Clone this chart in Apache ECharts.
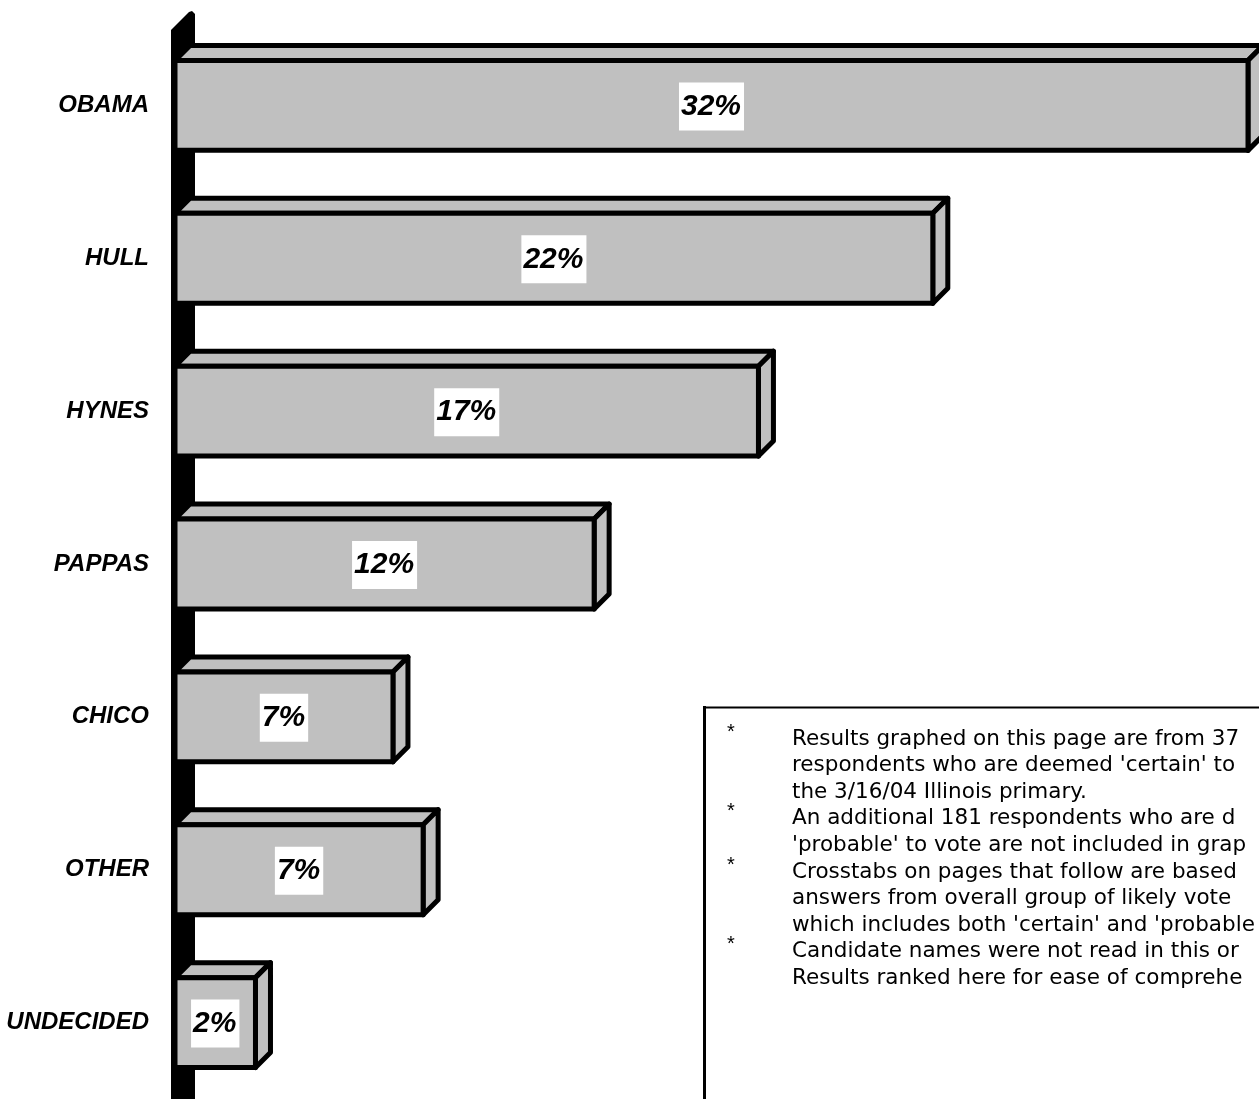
<!DOCTYPE html>
<html><head><meta charset="utf-8">
<script src="https://cdn.jsdelivr.net/npm/echarts@6/dist/echarts.min.js"></script>
<style>html,body{margin:0;padding:0;background:#fff;overflow:hidden}#c{width:1259px;height:1099px}</style>
</head><body><div id="c"></div>
<script>
const categories = ['OBAMA', 'HULL', 'HYNES', 'PAPPAS', 'CHICO', 'OTHER', 'UNDECIDED'];
const values = [32, 22.6, 17.4, 12.5, 6.5, 7.4, 2.4];
const valueLabels = ['32%', '22%', '17%', '12%', '7%', '7%', '2%'];
const noteLines = [
  ['*', 'Results graphed on this page are from 37'],
  ['', "respondents who are deemed 'certain' to"],
  ['', 'the 3/16/04 Illinois primary.'],
  ['*', 'An additional 181 respondents who are d'],
  ['', "'probable' to vote are not included in grap"],
  ['*', 'Crosstabs on pages that follow are based'],
  ['', 'answers from overall group of likely vote'],
  ['', "which includes both 'certain' and 'probable"],
  ['*', 'Candidate names were not read in this or'],
  ['', 'Results ranked here for ease of comprehe']
];

const FONT = 'Liberation Sans, Arial, sans-serif';
const NOTE_FONT = 'DejaVu Sans, Verdana, sans-serif';
const DEPTH = 15;
const chart = echarts.init(document.getElementById('c'));

function renderBar(params, api) {
  const v = api.value(0), i = api.value(1);
  const p0 = api.coord([0, i]), p1 = api.coord([v, i]);
  const band = api.size([0, 1])[1];
  const h = band * 0.588;
  const x0 = p0[0], x1 = p1[0], cy = p0[1];
  const t = cy - h / 2, b = cy + h / 2, d = DEPTH;
  const st = { fill: '#c0c0c0', stroke: '#000', lineWidth: 5, lineJoin: 'round' };
  return {
    type: 'group',
    children: [
      { type: 'polygon', shape: { points: [[x0, t], [x0 + d, t - d], [x1 + d, t - d], [x1, t]] }, style: st },
      { type: 'polygon', shape: { points: [[x1, t], [x1 + d, t - d], [x1 + d, b - d], [x1, b]] }, style: st },
      { type: 'rect', shape: { x: x0, y: t, width: x1 - x0, height: h }, style: st },
      { type: 'text', x: (x0 + x1) / 2, y: cy + 1,
        style: { text: valueLabels[params.dataIndex], fill: '#000', font: 'italic bold 30px ' + FONT,
          align: 'center', verticalAlign: 'middle', backgroundColor: '#fff', padding: [10, 3, 8, 2] } }
    ]
  };
}

chart.setOption({
  animation: false,
  grid: { left: 175, top: 29, width: 1073, height: 1071 },
  xAxis: { type: 'value', min: 0, max: 32, show: false },
  yAxis: {
    type: 'category', data: categories, inverse: true,
    axisLine: { show: false }, axisTick: { show: false }, splitLine: { show: false },
    axisLabel: { margin: 26, fontSize: 24, fontStyle: 'italic', fontWeight: 'bold', color: '#000', fontFamily: FONT, padding: [8, 0, 0, 0] }
  },
  series: [{
    type: 'custom', clip: false, z: 5,
    data: values.map((v, i) => [v, i]),
    encode: { x: 0, y: 1 },
    renderItem: renderBar
  }]
});

// Axis wall and note box
const origin = chart.convertToPixel({ gridIndex: 0 }, [0, 0]);
const gx = origin[0];
const gTop = 29;
const H = 1099;
const graphics = [
  { type: 'polygon', z: 1, shape: { points: [[gx - 4, H], [gx - 4, gTop + 1], [gx + 14, gTop - 17], [gx + 17, gTop - 18], [gx + 20, gTop - 15], [gx + 20, H]] },
    style: { fill: '#000' } },
  { type: 'line', z: 1, shape: { x1: 704.5, y1: 706, x2: 704.5, y2: H }, style: { stroke: '#000', lineWidth: 3 } },
  { type: 'line', z: 1, shape: { x1: 703, y1: 707.5, x2: 1259, y2: 707.5 }, style: { stroke: '#000', lineWidth: 2 } }
];
noteLines.forEach((ln, k) => {
  const y = 739 + k * 26.6;
  if (ln[0]) graphics.push({ type: 'text', z: 1, x: 727, y: y - 7, style: { text: ln[0], fill: '#000', font: '20px ' + FONT, verticalAlign: 'middle' } });
  graphics.push({ type: 'text', z: 1, x: 792, y: y, style: { text: ln[1], fill: '#000', font: '21.5px ' + NOTE_FONT, verticalAlign: 'middle' } });
});
chart.setOption({ graphic: graphics });
</script>
</body></html>
